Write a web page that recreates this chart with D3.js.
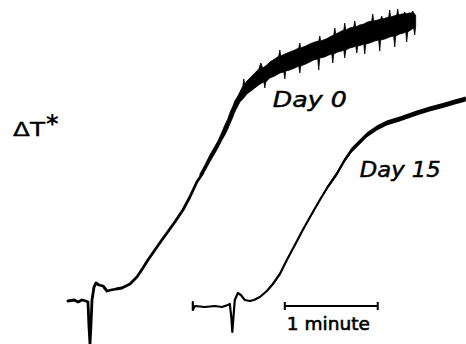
<!DOCTYPE html>
<html>
<head>
<meta charset="utf-8">
<script src="https://cdn.jsdelivr.net/npm/d3@7"></script>
<style>
  html, body { margin: 0; padding: 0; background: #fff; }
  svg { display: block; }
</style>
</head>
<body>
<svg id="chart" width="466" height="344"></svg>
<script>
// time in seconds, ΔT in arbitrary recorder units
const day0Time = [0, 4, 6.5, 9, 11.6, 12.9, 13.5, 14.2, 14.8, 15.5, 16.8, 18.1, 20, 22.6, 25.2, 27.7, 31, 34.8, 40, 44.5,
  48.4, 51.6, 56.1, 60.6, 63.9, 69, 74.2, 78.7, 83.2, 87.1]
const day0Value = [0, 1, -1, 1, 0, -1, -24, -43, -25, 1, 14, 18, 16, 15, 10, 11, 12, 13, 17, 24,
  33, 41, 51, 61, 68, 79, 91, 104, 119, 128]

// noisy part of the Day 0 trace: top and bottom edge of the band
const day0UpperTime = [85.2, 88.4, 91.6, 94.2, 96.8, 99.4, 101.3, 103.2, 104.5, 106.5, 107.7, 109.7, 111.0, 112.9, 113.5,
  114.2, 115.5, 118.1, 120.6, 123.2, 124.5, 125.8, 128.4, 130.3, 133.5, 136.1, 136.8, 137.4, 140.0, 143.2, 146.5, 149.0,
  149.7, 150.3, 153.5, 156.1, 159.4, 161.9, 162.6, 163.2, 166.5, 169.0, 171.6, 172.3, 172.9, 175.5, 178.1, 178.7, 179.4,
  181.9, 184.5, 185.2, 185.8, 188.4, 191.0, 193.5, 196.1, 196.8, 197.4, 200.0, 201.9, 202.6, 203.2, 205.2, 207.1, 207.7,
  208.4, 210.3, 212.3, 212.9, 213.5, 215.5, 216.8, 217.4, 218.1, 220.0, 221.9, 222.6, 223.2, 224.5]
const day0UpperValue = [127, 136, 146, 153, 160, 169, 176, 182, 188, 195, 200, 205, 209, 215, 222,
  217, 220, 224, 228, 232, 238, 233, 236, 239, 242, 245, 251, 245, 247, 249, 251, 253,
  258, 253, 255, 257, 259, 260, 265, 260, 262, 264, 266, 273, 267, 269, 271, 278, 271,
  273, 274, 280, 274, 276, 277, 279, 280, 287, 280, 281, 282, 285, 282, 283, 284, 291,
  284, 285, 286, 292, 286, 287, 287, 289, 287, 288, 288, 290, 288, 286]
const day0LowerTime = [85.2, 88.4, 91.6, 94.2, 96.8, 99.4, 101.3, 103.2, 104.5, 106.5, 107.7, 109.7, 111.0, 113.5, 115.5,
  118.1, 120.6, 123.2, 125.2, 126.5, 127.1, 127.7, 130.3, 133.5, 136.8, 139.4, 140.0, 140.6, 143.2, 146.5, 149.0, 149.7,
  150.3, 153.5, 156.1, 158.7, 161.3, 161.9, 162.6, 165.8, 168.4, 170.3, 171.0, 171.6, 174.2, 176.8, 178.1, 178.7, 179.4,
  181.9, 184.5, 185.8, 186.5, 187.1, 189.7, 191.0, 191.6, 192.3, 194.8, 198.1, 200.6, 201.3, 201.9, 204.5, 207.7, 210.3,
  211.0, 211.6, 214.2, 216.8, 218.1, 218.7, 219.4, 221.3, 223.2, 223.9, 224.5]
const day0LowerValue = [123, 130, 139, 146, 153, 161, 166, 172, 177, 184, 189, 195, 199, 203, 207,
  210, 213, 216, 218, 219, 213, 219, 223, 225, 228, 229, 222, 230, 231, 233, 235, 228,
  235, 237, 239, 241, 242, 231, 243, 244, 246, 247, 238, 247, 249, 250, 251, 243, 251,
  253, 254, 255, 248, 255, 256, 257, 247, 257, 258, 260, 261, 250, 261, 262, 264, 265,
  254, 265, 267, 268, 269, 259, 269, 271, 273, 266, 275]

const day15Time = [80.6, 80.6, 81.9, 88.4, 94.8, 99.4, 103.2, 104.5, 105.5, 106.1, 106.8, 107.7, 109.7, 111.6, 114.2, 117.4,
  120, 123.9, 128.4, 132.3, 136.8, 141.3, 146.5, 151.6, 157.4, 162.6, 167.7, 173.5, 178.7, 183.2, 188.4, 192.9,
  199.4, 205.8, 214.2, 225.2, 233.5, 243.2, 249.7, 256.8]
const day15Value = [-1, -9, -5, -6, -5, -6, -4, -3, -17, -31, -17, 1, 8, 6, 1, 0,
  1, 4, 10, 17, 27, 41, 56, 71, 87, 101, 114, 127, 141, 151, 159, 166,
  173, 178, 182, 188, 192, 196, 199, 202]
// half width of the slightly noisy Day 15 trace
const day15Noise = [0, 0, 0, 0, 0, 0, 0, 0, 0, 0, 0, 0, 0, 0, 0, 0,
  0, 0, 0, 0, 0, 0, 0, 0, 0.5, 1, 1.5, 2, 2, 2.5, 2.5, 2.5,
  2.5, 2.5, 2.5, 2.5, 2.5, 2.5, 2.5, 2.5]

const scaleBar = [140, 200] // 1 minute
const scaleBarLevel = -5

const labels = [
  { text: 'Day 0', t: 132.3, v: 194, width: 74 },
  { text: 'Day 15', t: 188.4, v: 124, width: 81 },
]

const svg = d3.select('#chart')

const x = d3.scaleLinear().domain([0, 257]).range([68, 466])
const y = d3.scaleLinear().domain([0, 280]).range([301, 21])

const pts = (times, values) => times.map((t, i) => [t, values[i]])

const line = d3
  .line()
  .x(d => x(d[0]))
  .y(d => y(d[1]))

// Day 0: clean start, then noisy band
svg
  .append('path')
  .attr('d', line(pts(day0Time, day0Value)))
  .attr('fill', 'none')
  .attr('stroke', '#000')
  .attr('stroke-width', 2.8)
  .attr('stroke-linejoin', 'round')
  .attr('stroke-linecap', 'round')

const bandPts = pts(day0UpperTime, day0UpperValue).concat(
  pts(day0LowerTime, day0LowerValue).reverse(),
)
svg
  .append('path')
  .attr('d', line(bandPts) + 'Z')
  .attr('fill', '#000')
  .attr('stroke', '#000')
  .attr('stroke-width', 0.8)
  .attr('stroke-linejoin', 'round')

// Day 15
const day15 = day15Time.map((t, i) => ({ t, v: day15Value[i], n: day15Noise[i] }))

svg
  .append('path')
  .datum(day15.filter(d => d.n > 0))
  .attr(
    'd',
    d3
      .area()
      .x(d => x(d.t))
      .y0(d => y(d.v - d.n))
      .y1(d => y(d.v + d.n)),
  )
  .attr('fill', '#000')

svg
  .append('path')
  .attr('d', line(pts(day15Time, day15Value)))
  .attr('fill', 'none')
  .attr('stroke', '#000')
  .attr('stroke-width', 2.2)
  .attr('stroke-linejoin', 'round')
  .attr('stroke-linecap', 'round')

// scale bar
const bar = svg.append('g').attr('stroke', '#000').attr('stroke-width', 2)
bar
  .append('line')
  .attr('x1', x(scaleBar[0]))
  .attr('x2', x(scaleBar[1]))
  .attr('y1', y(scaleBarLevel))
  .attr('y2', y(scaleBarLevel))
scaleBar.forEach(t => {
  bar
    .append('line')
    .attr('x1', x(t))
    .attr('x2', x(t))
    .attr('y1', y(scaleBarLevel) - 4)
    .attr('y2', y(scaleBarLevel) + 4)
})

svg
  .append('text')
  .attr('x', x(scaleBar[0]) + 2)
  .attr('y', y(scaleBarLevel - 24))
  .attr('font-family', 'DejaVu Sans')
  .attr('font-size', 18)
  .attr('stroke', '#000')
  .attr('stroke-width', 0.6)
  .attr('textLength', 83)
  .attr('lengthAdjust', 'spacingAndGlyphs')
  .text('1 minute')

svg
  .selectAll('text.day')
  .data(labels)
  .enter()
  .append('text')
  .attr('class', 'day')
  .attr('x', d => x(d.t))
  .attr('y', d => y(d.v))
  .attr('font-family', 'DejaVu Sans')
  .attr('font-style', 'italic')
  .attr('font-size', 22)
  .attr('stroke', '#000')
  .attr('stroke-width', 0.5)
  .attr('textLength', d => d.width)
  .attr('lengthAdjust', 'spacingAndGlyphs')
  .text(d => d.text)

// y label
svg
  .append('text')
  .attr('x', x(-35.5))
  .attr('y', y(165))
  .attr('font-family', 'DejaVu Sans')
  .attr('font-size', 19)
  .attr('stroke', '#000')
  .attr('stroke-width', 0.3)
  .attr('textLength', 32)
  .attr('lengthAdjust', 'spacingAndGlyphs')
  .text('ΔT')
svg
  .append('text')
  .attr('x', x(-35.5) + 33)
  .attr('y', y(165) - 4)
  .attr('font-family', 'DejaVu Sans')
  .attr('font-weight', 'bold')
  .attr('font-size', 24)
  .text('*')
</script>
</body>
</html>
